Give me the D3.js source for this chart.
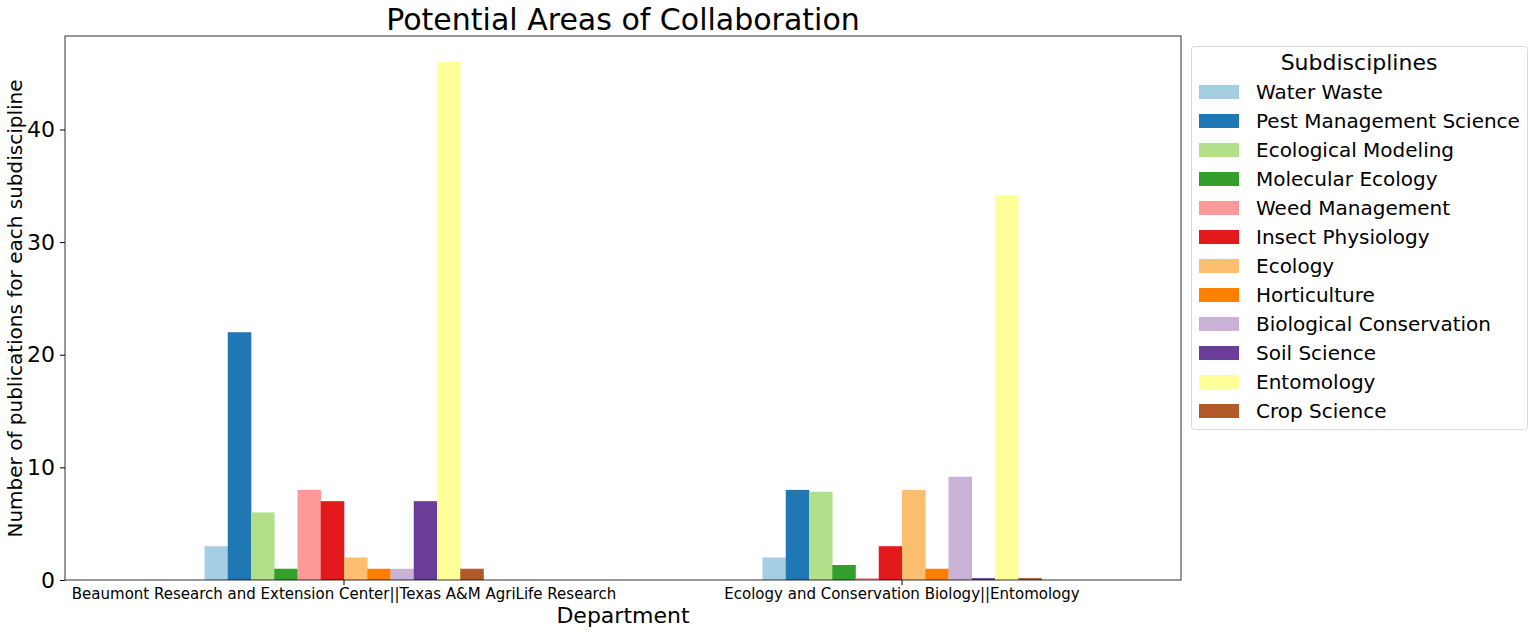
<!DOCTYPE html>
<html><head><meta charset="utf-8">
<script src="https://cdn.jsdelivr.net/npm/d3@7"></script>
<style>body{margin:0;background:#fff;} text{font-family:"DejaVu Sans",sans-serif;fill:#000;}</style>
</head><body>
<svg id="c" width="1535" height="634"></svg>
<script>
const departments = ["Beaumont Research and Extension Center||Texas A&M AgriLife Research", "Ecology and Conservation Biology||Entomology"];
const subdisciplines = ["Water Waste","Pest Management Science","Ecological Modeling","Molecular Ecology","Weed Management","Insect Physiology","Ecology","Horticulture","Biological Conservation","Soil Science","Entomology","Crop Science"];
const valuesBeaumont = [3, 22, 6, 1, 8, 7, 2, 1, 1, 7, 46, 1];
const valuesEcology = [2, 8, 7.833, 1.333, 0.167, 3, 8, 1, 9.167, 0.167, 34.167, 0.167];
const colors = ["#a6cee3","#1f78b4","#b2df8a","#33a02c","#fb9a99","#e31a1c","#fdbf6f","#ff7f00","#cab2d6","#6a3d9a","#ffff99","#b15928"];
const yTicks = [0, 10, 20, 30, 40];

const series = [valuesBeaumont, valuesEcology];
const svg = d3.select("#c");
const m = {l: 65, r: 1181, t: 36, b: 580};

const x = d3.scaleBand().domain(departments).range([m.l, m.r]).paddingInner(0.5).paddingOuter(0.25);
const xs = d3.scaleBand().domain(subdisciplines).range([0, x.bandwidth()]);
const y = d3.scaleLinear().domain([0, 46 * 1.05]).range([m.b, m.t]);

departments.forEach((d, i) => {
  svg.append("g").selectAll("rect").data(subdisciplines).join("rect")
    .attr("x", s => x(d) + xs(s))
    .attr("width", xs.bandwidth() + 0.3)
    .attr("y", (s, j) => y(series[i][j]))
    .attr("height", (s, j) => y(0) - y(series[i][j]))
    .attr("fill", (s, j) => colors[j]);
});

// frame
svg.append("rect").attr("x", m.l).attr("y", m.t).attr("width", m.r - m.l).attr("height", m.b - m.t)
  .attr("fill", "none").attr("stroke", "#000").attr("stroke-width", 0.8);

const yAxis = svg.append("g").attr("transform", `translate(${m.l},0)`)
  .call(d3.axisLeft(y).tickValues(yTicks).tickSize(5).tickPadding(5));
yAxis.select(".domain").remove();
yAxis.selectAll("text").style("font-size", "22px").style("font-family", "DejaVu Sans");

const xAxis = svg.append("g").attr("transform", `translate(0,${m.b})`)
  .call(d3.axisBottom(x).tickSize(5).tickPadding(3));
xAxis.select(".domain").remove();
xAxis.selectAll("text").style("font-size", "15px").style("font-family", "DejaVu Sans");

svg.append("text").attr("x", 623).attr("y", 30).attr("text-anchor", "middle")
  .style("font-size", "30px").text("Potential Areas of Collaboration");
svg.append("text").attr("x", 623).attr("y", 623).attr("text-anchor", "middle")
  .style("font-size", "22px").text("Department");
svg.append("text").attr("transform", "translate(22,308.5) rotate(-90)").attr("text-anchor", "middle")
  .style("font-size", "20px").text("Number of publications for each subdiscipline");

// legend
const lg = svg.append("g");
lg.append("rect").attr("x", 1191.5).attr("y", 46.5).attr("width", 336).attr("height", 383).attr("rx", 3)
  .attr("fill", "#fff").attr("stroke", "#d9d9d9");
lg.append("text").attr("x", 1359).attr("y", 70).attr("text-anchor", "middle").style("font-size", "22px").text("Subdisciplines");
subdisciplines.forEach((s, i) => {
  const yy = 92 + i * 29;
  lg.append("rect").attr("x", 1199).attr("y", yy - 7).attr("width", 40).attr("height", 14).attr("fill", colors[i]);
  lg.append("text").attr("x", 1256).attr("y", yy + 7).style("font-size", "20px").text(s);
});
</script>
</body></html>
